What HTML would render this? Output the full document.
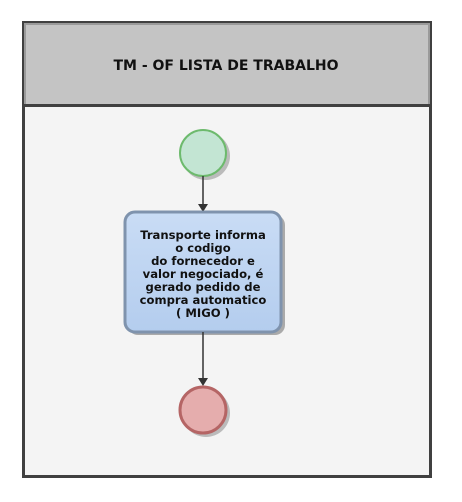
<!DOCTYPE html>
<html><head><style>body{margin:0;background:#fff}svg{display:block}</style></head><body>
<svg width="462" height="502" xmlns="http://www.w3.org/2000/svg">
<defs>
<linearGradient id="bg" x1="0" y1="0" x2="0" y2="1"><stop offset="0" stop-color="#c9dcf5"/><stop offset="1" stop-color="#b4cdee"/></linearGradient>
</defs>
<rect x="23.5" y="22.5" width="407" height="454" fill="#f4f4f4" stroke="#404040" stroke-width="3"/>
<rect x="25" y="24" width="404" height="81" fill="#c4c4c4" stroke="#9a9a9a" stroke-width="2"/>
<line x1="23" y1="105.5" x2="431" y2="105.5" stroke="#404040" stroke-width="3"/>
<text x="226" y="70" text-anchor="middle" font-family="DejaVu Sans, sans-serif" font-weight="bold" font-size="14" fill="#111">TM - OF LISTA DE TRABALHO</text>
<circle cx="206" cy="156" r="24" fill="#bbb"/>
<circle cx="203" cy="153" r="23" fill="#c3e5d3" stroke="#6dba6d" stroke-width="2"/>
<line x1="203" y1="176" x2="203" y2="205" stroke="#333" stroke-width="1.5"/>
<polygon points="198,204 208,204 203,212" fill="#333"/>
<rect x="128" y="215" width="157" height="120" rx="10" fill="#aaa"/>
<rect x="125" y="212" width="156" height="120" rx="10" fill="url(#bg)" stroke="#7f93ad" stroke-width="3"/>
<g font-family="DejaVu Sans, sans-serif" font-weight="bold" font-size="11.6" fill="#111" text-anchor="middle">
<text x="203" y="239">Transporte informa</text>
<text x="203" y="252">o codigo</text>
<text x="203" y="265">do fornecedor e</text>
<text x="203" y="278">valor negociado, é</text>
<text x="203" y="291">gerado pedido de</text>
<text x="203" y="304">compra automatico</text>
<text x="203" y="317">( MIGO )</text>
</g>
<line x1="203" y1="332" x2="203" y2="380" stroke="#333" stroke-width="1.5"/>
<polygon points="198,378 208,378 203,386" fill="#333"/>
<circle cx="206" cy="413" r="24" fill="#bbb"/>
<circle cx="203" cy="410" r="23" fill="#e5adad" stroke="#b56565" stroke-width="3"/>
</svg>
</body></html>
